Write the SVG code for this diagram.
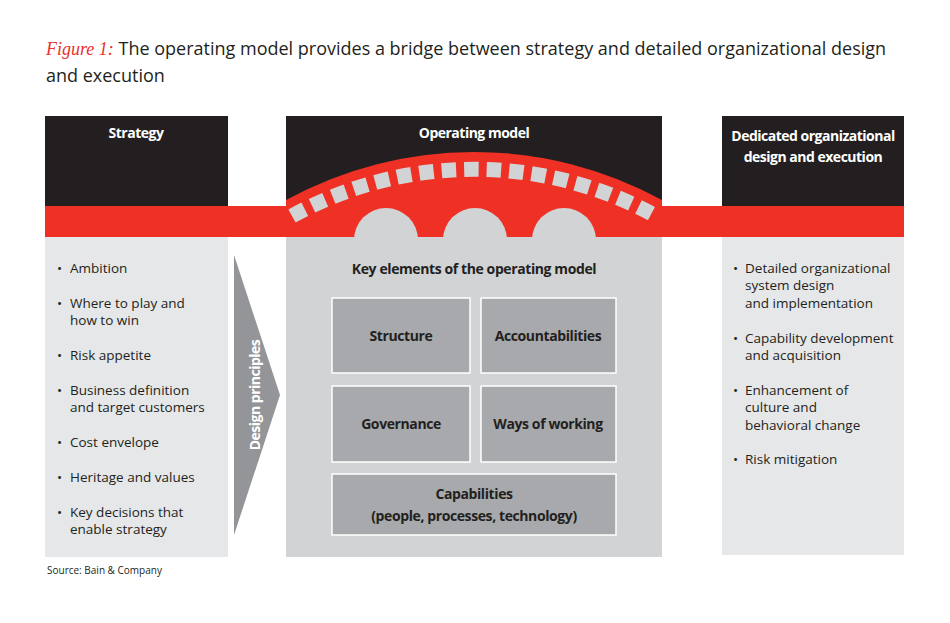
<svg xmlns="http://www.w3.org/2000/svg" width="950" height="623" viewBox="0 0 950 623">
<style>
text{font-family:"Open Sans","Liberation Sans",sans-serif;fill:#231f20}
.h{font-weight:bold;fill:#fff;font-size:14px;text-anchor:middle;letter-spacing:-0.5px}
.b{font-size:13.5px}
.k{font-weight:bold;font-size:14px;text-anchor:middle;letter-spacing:-0.4px}
.box{fill:#a7a9ac;stroke:#fff;stroke-width:1.5}
</style>
<rect width="950" height="623" fill="#fff"/>
<text x="46" y="55" font-size="18"><tspan font-family="'Liberation Serif',serif" font-style="italic" fill="#e8312a" style="fill:#e8312a">Figure 1:</tspan> The operating model provides a bridge between strategy and detailed organizational design</text>
<text x="46" y="82" font-size="18">and execution</text>
<g id="strategy">
<rect x="45" y="116" width="183" height="90" fill="#231f20"/>
<text class="h" x="136" y="138">Strategy</text>
<rect x="45" y="237" width="183" height="320" fill="#e6e7e8"/>
<text x="57" y="273" class="b">•</text><text x="70" y="273" class="b">Ambition</text>
<text x="57" y="308" class="b">•</text><text x="70" y="308" class="b">Where to play and</text><text x="70" y="325" class="b">how to win</text>
<text x="57" y="360" class="b">•</text><text x="70" y="360" class="b">Risk appetite</text>
<text x="57" y="395" class="b">•</text><text x="70" y="395" class="b">Business definition</text><text x="70" y="412" class="b">and target customers</text>
<text x="57" y="447" class="b">•</text><text x="70" y="447" class="b">Cost envelope</text>
<text x="57" y="482" class="b">•</text><text x="70" y="482" class="b">Heritage and values</text>
<text x="57" y="517" class="b">•</text><text x="70" y="517" class="b">Key decisions that</text><text x="70" y="534" class="b">enable strategy</text>
</g>
<g id="bridge">
<rect x="286" y="116" width="376" height="90" fill="#231f20"/>
<rect x="45" y="206" width="859" height="31" fill="#ee3124"/>
<path d="M286,237 L286,200 A392,392 0 0 1 662,200 L662,237 Z" fill="#ee3124"/>
<path d="M292,216 A378,378 0 0 1 656,216" fill="none" stroke="#d1d3d4" stroke-width="15" stroke-dasharray="14.5 8"/>
<circle cx="386" cy="240" r="32" fill="#d1d3d4"/>
<circle cx="475" cy="240" r="32" fill="#d1d3d4"/>
<circle cx="564" cy="240" r="32" fill="#d1d3d4"/>
<text class="h" x="474" y="138">Operating model</text>
</g>
<g id="operating-model">
<rect x="286" y="237" width="376" height="320" fill="#d1d3d4"/>
<text class="k" x="474" y="274">Key elements of the operating model</text>
<rect class="box" x="332" y="298" width="138" height="75"/><text class="k" x="401" y="341">Structure</text>
<rect class="box" x="481" y="298" width="135" height="75"/><text class="k" x="548" y="341">Accountabilities</text>
<rect class="box" x="332" y="386" width="138" height="76"/><text class="k" x="401" y="429">Governance</text>
<rect class="box" x="481" y="386" width="135" height="76"/><text class="k" x="548" y="429">Ways of working</text>
<rect class="box" x="332" y="474" width="284" height="61"/><text class="k" x="474" y="499">Capabilities</text><text class="k" x="474" y="521">(people, processes, technology)</text>
</g>
<g id="design-principles">
<path d="M234,255 L280,395 L234,535 Z" fill="#939598"/>
<text class="h" transform="translate(255,395) rotate(-90)" y="5">Design principles</text>
</g>
<g id="execution">
<rect x="722" y="116" width="182" height="90" fill="#231f20"/>
<text class="h" x="813" y="141">Dedicated organizational</text>
<text class="h" x="813" y="162">design and execution</text>
<rect x="722" y="237" width="182" height="318" fill="#e6e7e8"/>
<text x="733" y="273" class="b">•</text><text x="745" y="273" class="b">Detailed organizational</text><text x="745" y="290" class="b">system design</text><text x="745" y="308" class="b">and implementation</text>
<text x="733" y="343" class="b">•</text><text x="745" y="343" class="b">Capability development</text><text x="745" y="360" class="b">and acquisition</text>
<text x="733" y="395" class="b">•</text><text x="745" y="395" class="b">Enhancement of</text><text x="745" y="412" class="b">culture and</text><text x="745" y="430" class="b">behavioral change</text>
<text x="733" y="464" class="b">•</text><text x="745" y="464" class="b">Risk mitigation</text>
</g>
<text x="47" y="574" font-size="10">Source: Bain &amp; Company</text>
</svg>
